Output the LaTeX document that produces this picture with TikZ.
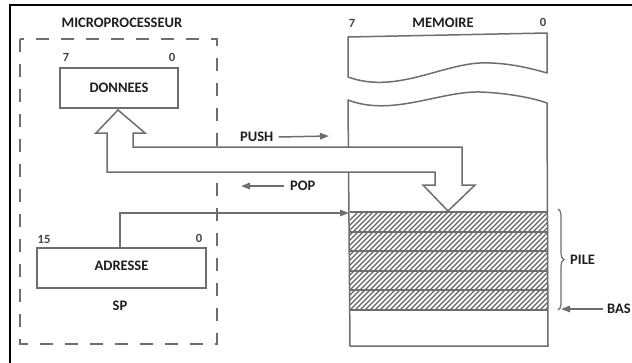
\documentclass[tikz,border=0pt]{standalone}
\usepackage{fontspec}
\setmainfont{Carlito}
\usetikzlibrary{arrows.meta,decorations.pathreplacing}
\definecolor{ln}{HTML}{6E6E6E}
\definecolor{tx}{HTML}{1E1E1E}
\definecolor{nm}{HTML}{444444}
\begin{document}
\begin{tikzpicture}[x=1pt,y=-1pt,
  lbl/.style={text=tx,font=\fontsize{14.5}{16}\selectfont\bfseries,inner sep=0pt},
  num/.style={text=nm,font=\fontsize{12.5}{14}\selectfont\bfseries,inner sep=0pt},
  reg/.style={draw=ln,line width=1.5pt,fill=white,inner sep=0pt},
  conn/.style={draw=ln,line width=1.5pt},
  arr/.style={conn,-{Triangle[length=9pt,width=6.5pt]}}]
\useasboundingbox (0,0) rectangle (632,362);
\clip (0,0) rectangle (632,362);
% outer frame
\draw[black,line width=2pt] (10,5) rectangle (700,420);
% microprocessor
\node[lbl] (mp) at (122,23) {MICROPROCESSEUR};
\draw[ln,line width=2pt,dash pattern=on 13pt off 12pt] (20,39) rectangle (217,344);
\node[num] (d7) at (66,57) {7};
\node[num] (d0) at (172,57) {0};
\node[reg,minimum width=118pt,minimum height=40pt] (don) at (119,88) {};
\node[lbl] (dont) at (119,88) {DONNEES};
\node[num] (a15) at (44,239) {15};
\node[num] (a0) at (199,238) {0};
\node[reg,minimum width=169pt,minimum height=40pt] (adr) at (121.5,268) {};
\node[lbl] (adrt) at (121.5,266) {ADRESSE};
\node[lbl] (sp) at (120,306) {SP};
% memory
\node[lbl] (mem) at (443,23) {MEMOIRE};
\node[num] (m7) at (352,23) {7};
\node[num] (m0) at (543,22) {0};
\draw[conn,line join=round] (348,77) -- (348,37) -- (547,33) -- (547,73)
  .. controls (530,68) and (505,62) .. (480,63)
  .. controls (440,65) and (395,94) .. cycle;
\begin{scope}
  \clip (350,212) rectangle (548,310);
  \foreach \k in {0,5,...,320} \draw[ln!90!black,line width=1.1pt] (250+\k,320) -- (370+\k,200);
\end{scope}
\draw[conn,line join=round] (348,100)
  .. controls (392,117) and (440,91) .. (480,92)
  .. controls (505,93) and (530,97) .. (547,103)
  -- (548,346) -- (350,346) -- cycle;
\foreach \yy in {212,232,251,271,290,310} \draw[conn,line width=1.6pt] (350,\yy) -- (548,\yy);
% hollow double arrow
\draw[conn,fill=white,line join=miter] (118,110) -- (145,133) -- (133,133) -- (133,147) -- (462,147)
  -- (462,185) -- (475,185) -- (448,211) -- (423,185) -- (435,185) -- (435,172)
  -- (107,172) -- (107,133) -- (96,133) -- cycle;
% push / pop
\node[lbl,anchor=west] (push) at (240,137) {PUSH};
\coordinate (pushe) at (329,136);
\draw[arr] (push.east) ++(5pt,0) -- (pushe);
\node[lbl,anchor=west] (pop) at (290,186) {POP};
\coordinate (pope) at (241,186);
\draw[arr] (pop.west) ++(-6pt,0) -- (pope);
% SP pointer
\coordinate (spe) at (349,213);
\draw[arr] (adr.north -| 120,0) |- (spe);
% pile brace
\draw[conn,line width=1.2pt,decorate,decoration={brace,amplitude=6pt}] (558,209) -- (558,310);
\node[lbl,anchor=west] (pile) at (570,260) {PILE};
\node[lbl,anchor=west] (bas) at (607,309) {BAS};
\coordinate (base) at (561,309);
\draw[arr] (bas.west) ++(-4pt,0) -- (base);
\end{tikzpicture}
\end{document}
